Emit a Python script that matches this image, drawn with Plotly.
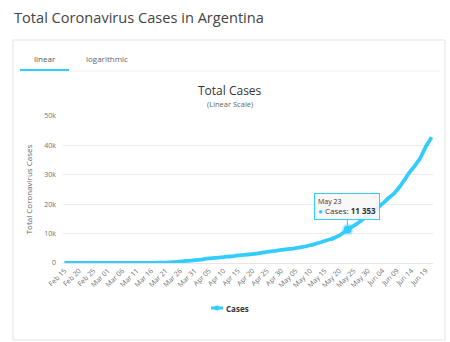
import pandas as pd
import plotly.graph_objects as go

# Daily dates and cumulative confirmed cases
dates = pd.date_range("2020-02-15", "2020-06-21", freq="D")
date_labels = [d.strftime("%b %d") for d in dates]

cases = (
    [0] * 18
    + [1, 1, 2, 8, 9, 12, 17, 19, 19, 31,
       34, 45, 56, 65, 79, 97, 128, 158, 225, 266,
       301, 387, 502, 589, 690, 745, 820, 966]
    + [1054, 1133, 1265, 1451, 1554, 1628, 1715, 1795, 1894, 1975,
       2142, 2208, 2277, 2443, 2571, 2669, 2758, 2839, 2941, 3031,
       3144, 3288, 3435, 3607, 3780, 3892, 4003, 4127, 4285, 4428]
    + [4532, 4681, 4783, 4887, 5020, 5208, 5371, 5611, 5776, 6034,
       6265, 6563, 6879, 7134, 7479, 7805, 8068, 8371, 8809, 9283,
       9931, 10649, 11353, 12076, 12628, 13228, 13933, 14702, 15419, 16214, 16851]
    + [17415, 18319, 19268, 20197, 21037, 22020, 22794, 23620, 24761, 25987,
       27373, 28764, 30295, 31577, 32785, 34159, 35552, 37510, 39570, 41204,
       42785]
)

tick_labels = date_labels[::5]
y_ticks = [0, 10000, 20000, 30000, 40000, 50000]
y_tick_text = ["0", "10k", "20k", "30k", "40k", "50k"]

highlight_label = "May 23"
highlight_idx = date_labels.index(highlight_label)
highlight_value = cases[highlight_idx]

W, H = 450, 342
L, R, T, B = 63, 17, 116, 79
PW, PH = W - L - R, H - T - B

LINE = "#33ccff"
PAGE_FONT = "Open Sans"
CHART_FONT = "Open Sans"


def px(x):
    return (x - L) / PW


def py(y):
    return (H - B - y) / PH


fig = go.Figure()
fig.add_trace(go.Scatter(
    x=date_labels, y=cases, mode="lines",
    line=dict(color=LINE, width=3.8, shape="spline", smoothing=0.3),
    hoverinfo="skip", showlegend=False,
))
fig.add_trace(go.Scatter(
    x=[highlight_label], y=[highlight_value], mode="markers",
    marker=dict(size=8, color=LINE, line=dict(color="rgba(51,204,255,0.3)", width=4)),
    hoverinfo="skip", showlegend=False,
))

shapes = [
    # card frame
    dict(type="rect", xref="paper", yref="paper",
         x0=px(13), x1=px(445), y0=py(40), y1=py(340),
         line=dict(color="#e3e3e3", width=1), fillcolor="rgba(0,0,0,0)", layer="below"),
    # tab separator
    dict(type="line", xref="paper", yref="paper",
         x0=px(20), x1=px(440), y0=py(71), y1=py(71),
         line=dict(color="#eeeeee", width=1)),
    # active tab underline
    dict(type="line", xref="paper", yref="paper",
         x0=px(20), x1=px(69), y0=py(70), y1=py(70),
         line=dict(color=LINE, width=2)),
    # legend symbol
    dict(type="line", xref="paper", yref="paper",
         x0=px(211), x1=px(223), y0=py(308), y1=py(308),
         line=dict(color=LINE, width=3)),
    dict(type="circle", xref="paper", yref="paper",
         x0=px(214.5), x1=px(219.5), y0=py(305.5), y1=py(310.5),
         line=dict(color=LINE, width=0), fillcolor=LINE),
]

annotations = [
    dict(text="Total Coronavirus Cases in Argentina", xref="paper", yref="paper",
         x=px(12), y=py(17), xanchor="left", yanchor="middle", showarrow=False,
         font=dict(family=PAGE_FONT, size=14.6, color="#444444")),
    dict(text="linear", xref="paper", yref="paper",
         x=px(45), y=py(58), xanchor="center", yanchor="middle", showarrow=False,
         font=dict(family=PAGE_FONT, size=8, color="#555555")),
    dict(text="logarithmic", xref="paper", yref="paper",
         x=px(107), y=py(58), xanchor="center", yanchor="middle", showarrow=False,
         font=dict(family=PAGE_FONT, size=8, color="#666666")),
    dict(text="Total Cases", xref="paper", yref="paper",
         x=px(230), y=py(90), xanchor="center", yanchor="middle", showarrow=False,
         font=dict(family=CHART_FONT, size=12, color="#333333")),
    dict(text="(Linear Scale)", xref="paper", yref="paper",
         x=px(230), y=py(104), xanchor="center", yanchor="middle", showarrow=False,
         font=dict(family=CHART_FONT, size=7.5, color="#666666")),
    dict(text="<b>Cases</b>", xref="paper", yref="paper",
         x=px(224), y=py(308), xanchor="left", yanchor="middle", showarrow=False,
         font=dict(family=CHART_FONT, size=8, color="#333333")),
    dict(text=("<span style='font-size:7px'>" + highlight_label + "</span><br>"
               "<span style='color:#33ccff'>●</span> Cases: <b>"
               + f"{highlight_value:,}".replace(",", " ") + "</b>"),
         x=highlight_label, y=highlight_value, xref="x", yref="y",
         showarrow=True, ax=-1, ay=-23, arrowhead=0, arrowwidth=1,
         arrowcolor=LINE, standoff=4, align="left",
         bgcolor="rgba(247,247,247,0.9)", bordercolor=LINE, borderwidth=1,
         borderpad=3,
         font=dict(family=CHART_FONT, size=8, color="#333333")),
]

fig.update_layout(
    width=W, height=H,
    margin=dict(l=L, r=R, t=T, b=B),
    paper_bgcolor="white", plot_bgcolor="white",
    shapes=shapes, annotations=annotations,
    showlegend=False,
    xaxis=dict(
        type="category", tickmode="array", tickvals=tick_labels, ticktext=tick_labels,
        tickangle=-45, tickfont=dict(family=CHART_FONT, size=7, color="#707070"),
        showgrid=False, showline=True, linecolor="#e6e6e6", linewidth=1,
        ticks="", range=[-0.5, len(date_labels) - 0.5], fixedrange=True,
    ),
    yaxis=dict(
        range=[0, 50000], tickmode="array", tickvals=y_ticks, ticktext=y_tick_text,
        tickfont=dict(family=CHART_FONT, size=7, color="#707070"),
        showgrid=True, gridcolor="#ebebeb", gridwidth=1, zeroline=False,
        title=dict(text="Total Coronavirus Cases", standoff=10,
                   font=dict(family=CHART_FONT, size=8, color="#666666")),
        ticklabelstandoff=6, fixedrange=True,
    ),
)

fig.write_html("out.html")
